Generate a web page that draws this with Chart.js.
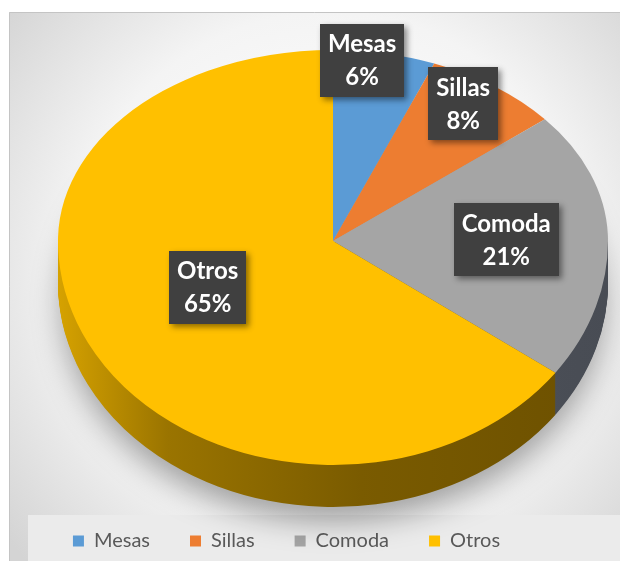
<!DOCTYPE html>
<html>
<head>
<meta charset="utf-8">
<script src="https://cdn.jsdelivr.net/npm/chart.js@4.4.0/dist/chart.umd.min.js"></script>
<style>
  body { margin: 0; background: #fff; }
  canvas { display: block; }
</style>
</head>
<body>
<canvas id="myChart" width="620" height="561"></canvas>
<script>
const categorias = ['Mesas', 'Sillas', 'Comoda', 'Otros'];
const valores = [6, 8, 21, 65];
const colores = ['#5b9bd5', '#ed7d31', '#a5a5a5', '#ffc000'];

// where the tilted pie sits on the page (screen pixels)
const pie = { cx: 333, cy: 241, rx: 275, ryTop: 191, ryBottom: 224, depth: 42 };
// how far out along each slice the label box goes, and a small angle nudge (deg)
const labelFrac = [0.95, 0.86, 0.63, 0.5];
const labelNudge = [-4.4, -2.6, 1.3, 2.7];

function tilt(ctx, arc, half, dy) {
  const r = arc.outerRadius;
  ctx.translate(pie.cx, pie.cy + dy);
  ctx.scale(pie.rx / r, (half === 'top' ? pie.ryTop : pie.ryBottom) / r);
  ctx.translate(-arc.x, -arc.y);
}

function drawWith(ctx, arc, opts) {
  const o = arc.options;
  arc.options = Object.assign({}, o, opts);
  arc.draw(ctx);
  arc.options = o;
}

function sideFill(ctx, arc, i) {
  const r = arc.outerRadius;
  const g = ctx.createLinearGradient(arc.x - r, 0, arc.x + r, 0);
  if (i === 3) {
    g.addColorStop(0, '#d6a200');
    g.addColorStop(0.2, '#9a7400');
    g.addColorStop(0.55, '#7a5b00');
    g.addColorStop(1, '#6c5000');
  } else if (i === 2) {
    g.addColorStop(0, '#5a5e66');
    g.addColorStop(1, '#484c54');
  } else if (i === 1) {
    g.addColorStop(0, '#8c4a1d');
    g.addColorStop(1, '#8c4a1d');
  } else {
    g.addColorStop(0, '#36608a');
    g.addColorStop(1, '#36608a');
  }
  return g;
}

const fondo = {
  id: 'fondo',
  beforeDraw(chart) {
    const ctx = chart.ctx;
    const W = chart.width, H = chart.height;
    ctx.save();
    ctx.fillStyle = '#ffffff';
    ctx.fillRect(0, 0, W, H);
    const g = ctx.createRadialGradient(330, 270, 60, 330, 270, 420);
    g.addColorStop(0, '#ffffff');
    g.addColorStop(0.55, '#f4f4f4');
    g.addColorStop(1, '#d4d4d4');
    ctx.fillStyle = g;
    ctx.fillRect(9, 12, W - 9, H - 12);
    ctx.strokeStyle = '#c4c4c4';
    ctx.lineWidth = 1;
    ctx.beginPath();
    ctx.moveTo(9.5, H);
    ctx.lineTo(9.5, 12.5);
    ctx.lineTo(W, 12.5);
    ctx.stroke();
    // legend band
    ctx.fillStyle = '#ebebeb';
    ctx.fillRect(28, 515, W - 28, H - 515);
    ctx.restore();
  }
};

const tarta3d = {
  id: 'tarta3d',
  beforeDatasetsDraw(chart) {
    const ctx = chart.ctx;
    const W = chart.width, H = chart.height;
    const arcs = chart.getDatasetMeta(0).data;
    if (!arcs.length) return;

    // soft shadow under the pie
    ctx.save();
    ctx.shadowColor = 'rgba(0,0,0,0.35)';
    ctx.shadowBlur = 30;
    ctx.shadowOffsetX = 10000;
    ctx.shadowOffsetY = 10;
    ctx.beginPath();
    ctx.ellipse(pie.cx - 10000, pie.cy + pie.depth + 10, pie.rx - 4, pie.ryBottom - 6, 0, 0, Math.PI * 2);
    ctx.fillStyle = '#000';
    ctx.fill();
    ctx.restore();

    // side wall, stacked layers
    for (let d = pie.depth; d >= 1; d--) {
      ctx.save();
      ctx.beginPath();
      ctx.rect(0, pie.cy + d, W, H);
      ctx.clip();
      tilt(ctx, arcs[0], 'bottom', d);
      arcs.forEach((a, i) => drawWith(ctx, a, { backgroundColor: sideFill(ctx, a, i), borderWidth: 0 }));
      ctx.restore();
    }

    // top face, upper and lower halves
    ctx.save();
    ctx.beginPath();
    ctx.rect(0, 0, W, pie.cy + 1);
    ctx.clip();
    tilt(ctx, arcs[0], 'top', 0);
    arcs.forEach(a => drawWith(ctx, a, { borderWidth: 0 }));
    ctx.restore();

    ctx.save();
    ctx.beginPath();
    ctx.rect(0, pie.cy, W, H);
    ctx.clip();
    tilt(ctx, arcs[0], 'bottom', 0);
    arcs.forEach(a => drawWith(ctx, a, { borderWidth: 0 }));
    ctx.restore();

    return false;
  },
  afterDraw(chart) {
    const ctx = chart.ctx;
    const arcs = chart.getDatasetMeta(0).data;
    const total = valores.reduce((s, v) => s + v, 0);
    ctx.save();
    ctx.font = 'bold 24px Lato';
    ctx.textAlign = 'center';
    ctx.textBaseline = 'middle';
    arcs.forEach((a, i) => {
      const mid = (a.startAngle + a.endAngle) / 2 + labelNudge[i] * Math.PI / 180;
      const u = labelFrac[i] * Math.cos(mid);
      const v = labelFrac[i] * Math.sin(mid);
      const x = pie.cx + pie.rx * u;
      const y = pie.cy + (v < 0 ? pie.ryTop : pie.ryBottom) * v;
      const l1 = categorias[i];
      const l2 = Math.round(valores[i] / total * 100) + '%';
      const w = Math.max(ctx.measureText(l1).width, ctx.measureText(l2).width) + 16;
      const h = 73;
      ctx.save();
      ctx.shadowColor = 'rgba(0,0,0,0.45)';
      ctx.shadowBlur = 6;
      ctx.shadowOffsetX = 3;
      ctx.shadowOffsetY = 3;
      ctx.fillStyle = '#404040';
      ctx.fillRect(Math.round(x - w / 2), Math.round(y - h / 2), Math.round(w), h);
      ctx.restore();
      ctx.fillStyle = '#ffffff';
      ctx.fillText(l1, x, y - 16);
      ctx.fillText(l2, x, y + 17);
    });
    ctx.restore();
  }
};

const ctx = document.getElementById('myChart');
const myChart = new Chart(ctx, {
  type: 'pie',
  data: {
    labels: categorias,
    datasets: [{
      data: valores,
      backgroundColor: colores,
      borderWidth: 0
    }]
  },
  options: {
    responsive: false,
    animation: false,
    events: [],
    layout: { padding: { left: 0, right: 47, top: 10, bottom: 0 } },
    plugins: {
      tooltip: { enabled: false },
      legend: {
        position: 'bottom',
        labels: {
          boxWidth: 11,
          boxHeight: 11,
          padding: 40,
          color: '#595959',
          font: { family: 'Lato', size: 20 }
        }
      }
    }
  },
  plugins: [fondo, tarta3d]
});
</script>
</body>
</html>
